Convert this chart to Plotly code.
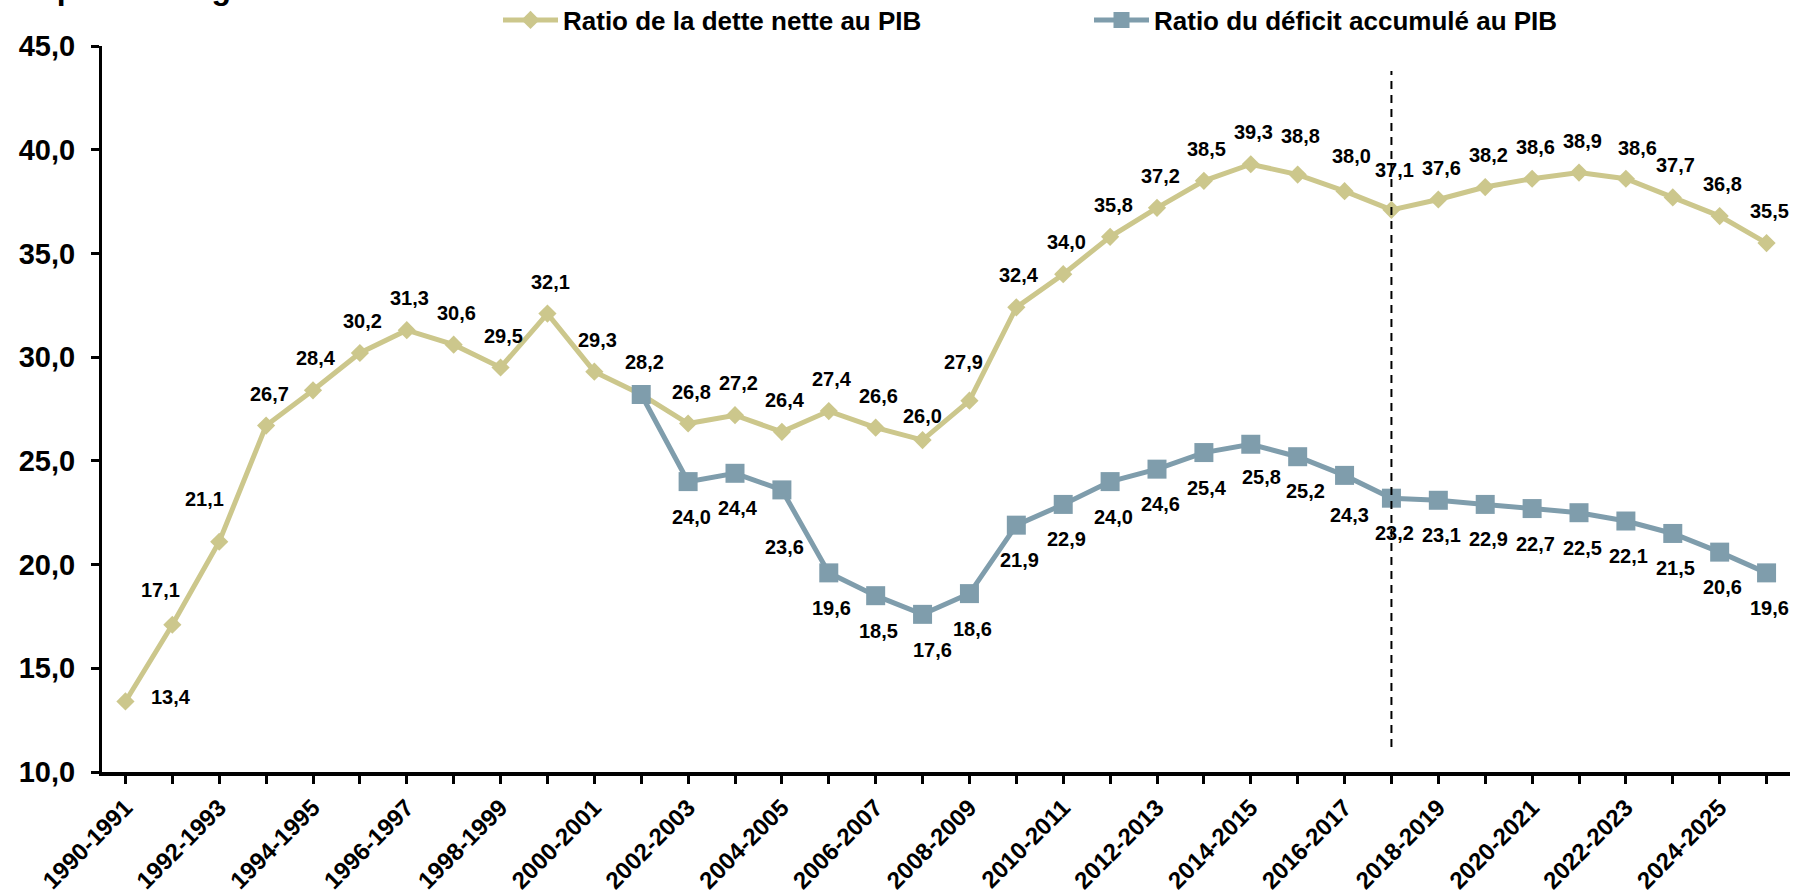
import plotly.graph_objects as go

# ---------------- data ----------------
categories = [
    "1990-1991", "1991-1992", "1992-1993", "1993-1994", "1994-1995", "1995-1996",
    "1996-1997", "1997-1998", "1998-1999", "1999-2000", "2000-2001", "2001-2002",
    "2002-2003", "2003-2004", "2004-2005", "2005-2006", "2006-2007", "2007-2008",
    "2008-2009", "2009-2010", "2010-2011", "2011-2012", "2012-2013", "2013-2014",
    "2014-2015", "2015-2016", "2016-2017", "2017-2018", "2018-2019", "2019-2020",
    "2020-2021", "2021-2022", "2022-2023", "2023-2024", "2024-2025", "2025-2026",
]
tick_labels = [
    "1990-1991", "", "1992-1993", "", "1994-1995", "", "1996-1997", "", "1998-1999", "",
    "2000-2001", "", "2002-2003", "", "2004-2005", "", "2006-2007", "", "2008-2009", "",
    "2010-2011", "", "2012-2013", "", "2014-2015", "", "2016-2017", "", "2018-2019", "",
    "2020-2021", "", "2022-2023", "", "2024-2025", "",
]
dette_nette = [
    13.4, 17.1, 21.1, 26.7, 28.4, 30.2, 31.3, 30.6, 29.5, 32.1, 29.3, 28.2,
    26.8, 27.2, 26.4, 27.4, 26.6, 26.0, 27.9, 32.4, 34.0, 35.8, 37.2, 38.5,
    39.3, 38.8, 38.0, 37.1, 37.6, 38.2, 38.6, 38.9, 38.6, 37.7, 36.8, 35.5,
]
deficit_categories = categories[11:]
deficit_accumule = [
    28.2, 24.0, 24.4, 23.6, 19.6, 18.5, 17.6, 18.6, 21.9, 22.9, 24.0, 24.6,
    25.4, 25.8, 25.2, 24.3, 23.2, 23.1, 22.9, 22.7, 22.5, 22.1, 21.5, 20.6, 19.6,
]
y_ticks = [10, 15, 20, 25, 30, 35, 40, 45]
projection_category = "2017-2018"
projection_span = [11.2, 43.8]
name_dette = "Ratio de la dette nette au PIB"
name_deficit = "Ratio du déficit accumulé au PIB"
title_text = "En pourcentage du PIB"

# ---------------- style ----------------
COL_Y = "#CCC78C"
COL_B = "#7F9DAC"
FONT = "Liberation Sans, Arial, sans-serif"

# label offsets (px): default and exceptions, keyed by category index
dette_default = (3, 32)
dette_offsets = {0: (46, 4), 1: (-12, 35), 2: (-15, 43), 17: (0, 24), 18: (-6, 39),
                 25: (3, 39), 26: (7, 35), 27: (3, 40), 32: (12, 31)}
deficit_default = (3, -35)
deficit_offsets = {14: (3, -57), 17: (10, -36), 24: (11, -33), 25: (8, -34), 26: (5, -40)}
deficit_hidden = {11}


def fmt(v):
    return f"{v:.1f}".replace(".", ",")


fig = go.Figure()
fig.add_trace(go.Scatter(
    x=categories, y=dette_nette, mode="lines+markers", name=name_dette,
    line=dict(color=COL_Y, width=5),
    marker=dict(symbol="diamond", size=14, color=COL_Y),
    hoverinfo="skip",
))
fig.add_trace(go.Scatter(
    x=deficit_categories, y=deficit_accumule, mode="lines+markers", name=name_deficit,
    line=dict(color=COL_B, width=5),
    marker=dict(symbol="square", size=19, color=COL_B),
    hoverinfo="skip",
))

label_font = dict(family=FONT, size=20, color="black", weight="bold")
annotations = []
for i, (c, v) in enumerate(zip(categories, dette_nette)):
    dx, dy = dette_offsets.get(i, dette_default)
    annotations.append(dict(x=c, y=v, xref="x", yref="y", text=fmt(v), showarrow=False,
                            xshift=dx, yshift=dy, xanchor="center", yanchor="middle",
                            font=label_font))
for j, (c, v) in enumerate(zip(deficit_categories, deficit_accumule)):
    i = j + 11
    if i in deficit_hidden:
        continue
    dx, dy = deficit_offsets.get(i, deficit_default)
    annotations.append(dict(x=c, y=v, xref="x", yref="y", text=fmt(v), showarrow=False,
                            xshift=dx, yshift=dy, xanchor="center", yanchor="middle",
                            font=label_font))

# heading at the very top, mostly cut off by the frame as in the original
annotations.append(dict(x=-0.0575, y=1.0799, xref="paper", yref="paper", text=title_text,
                        showarrow=False, xanchor="left", yanchor="middle",
                        font=dict(family=FONT, size=32, color="black", weight="bold")))

fig.add_shape(type="line", xref="x", yref="y",
              x0=projection_category, x1=projection_category,
              y0=projection_span[0], y1=projection_span[1],
              line=dict(color="black", width=2, dash="8px,6px"))

fig.update_layout(
    width=1804, height=892,
    margin=dict(l=102, r=14, t=46, b=120, autoexpand=False),
    paper_bgcolor="white", plot_bgcolor="white",
    separators=", ",
    font=dict(family=FONT, color="black"),
    showlegend=True,
    legend=dict(orientation="h", xref="container", yref="container",
                x=498 / 1804, y=1 - 20 / 892, xanchor="left", yanchor="middle",
                font=dict(family=FONT, size=26, color="black", weight="bold"),
                entrywidth=521, entrywidthmode="pixels", itemwidth=55,
                bgcolor="rgba(0,0,0,0)", tracegroupgap=0),
    annotations=annotations,
    hovermode=False,
)
fig.update_xaxes(
    type="category", categoryorder="array", categoryarray=categories,
    range=[-0.5, len(categories) - 0.5], automargin=False,
    tickmode="array", tickvals=categories, ticktext=tick_labels,
    tickangle=-45, ticks="outside", ticklen=8, tickwidth=3, tickcolor="black",
    showline=True, linecolor="black", linewidth=4, showgrid=False, zeroline=False,
    tickfont=dict(family=FONT, size=24, color="black", weight="bold"),
)
fig.update_yaxes(
    range=[10, 45], tickmode="array", tickvals=y_ticks, tickformat=".1f", automargin=False,
    ticks="outside", ticklen=8, tickwidth=3, tickcolor="black", ticklabelstandoff=10,
    showline=True, linecolor="black", linewidth=3, showgrid=False, zeroline=False,
    tickfont=dict(family=FONT, size=29, color="black", weight="bold"),
)

fig.write_html("out.html", config={"displayModeBar": False},
               post_script="document.body.style.margin='0';document.body.style.overflow='hidden';")
